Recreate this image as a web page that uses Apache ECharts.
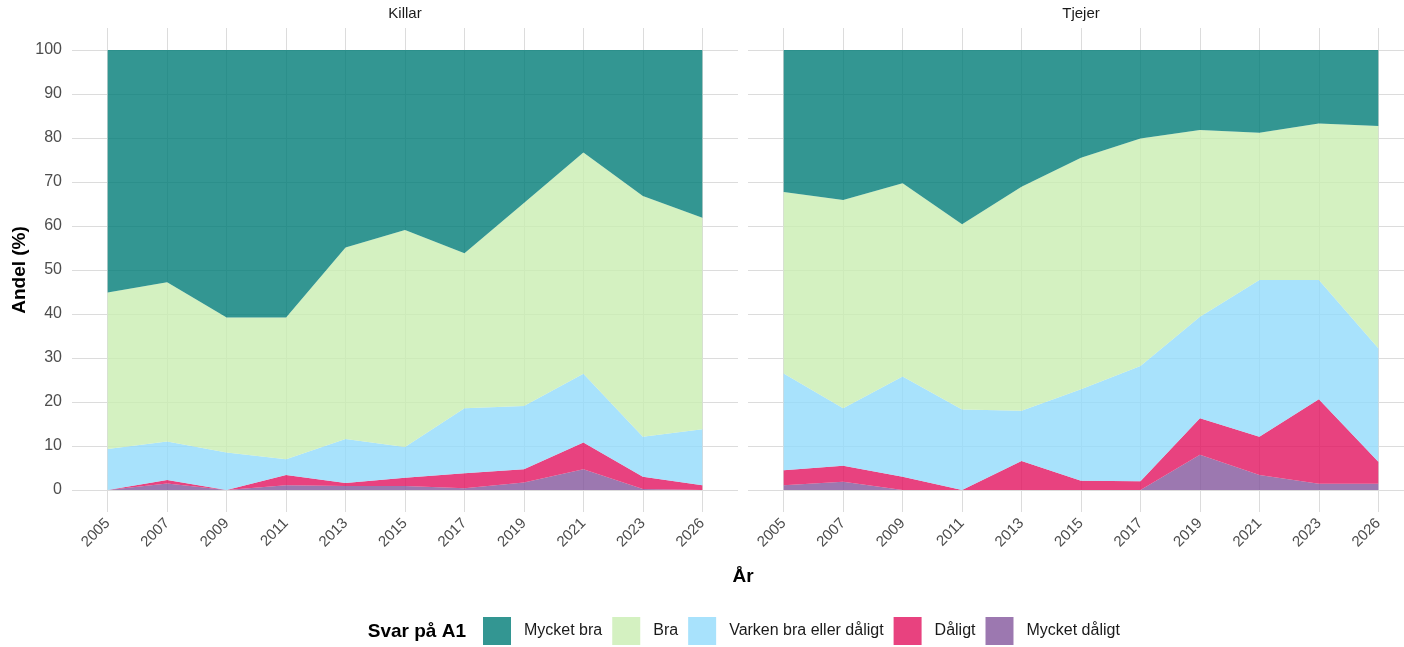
<!DOCTYPE html>
<html>
<head>
<meta charset="utf-8">
<script src="https://cdn.jsdelivr.net/npm/echarts@6/dist/echarts.min.js"></script>
<style>
  html, body { margin: 0; padding: 0; background: #fff; }
  #main { width: 1404px; height: 647px; }
</style>
</head>
<body>
<!-- container for the chart -->
<div id="main"></div>
<script>
// x categories
var years = ["2005", "2007", "2009", "2011", "2013", "2015", "2017", "2019", "2021", "2023", "2026"];
var yTicks = [0, 10, 20, 30, 40, 50, 60, 70, 80, 90, 100];

// Killar (andel %)
var mycketDaligtK = [0, 1.5, 0, 1.1, 0.9, 0.9, 0.4, 1.7, 4.7, 0.2, 0];
var daligtK = [0, 0.8, 0, 2.3, 0.7, 1.9, 3.4, 3.0, 6.1, 2.8, 1.1];
var varkenK = [9.3, 8.7, 8.5, 3.6, 10.0, 7.0, 14.8, 14.4, 15.6, 9.1, 12.7];
var braK = [35.6, 36.2, 30.7, 32.2, 43.5, 49.3, 35.2, 46.1, 50.3, 54.7, 48.1];
var mycketBraK = [55.1, 52.8, 60.8, 60.8, 44.9, 40.9, 46.2, 34.8, 23.3, 33.2, 38.1];

// Tjejer (andel %)
var mycketDaligtT = [1.1, 1.9, 0, 0, 0, 0, 0, 8.0, 3.4, 1.4, 1.4];
var daligtT = [3.4, 3.6, 3.0, 0, 6.6, 2.1, 2.0, 8.3, 8.7, 19.2, 5.0];
var varkenT = [22.0, 13.1, 22.8, 18.3, 11.4, 20.8, 26.2, 23.1, 35.6, 27.1, 25.8];
var braT = [41.2, 47.3, 43.9, 42.1, 50.9, 52.6, 51.7, 42.4, 33.5, 35.6, 50.5];
var mycketBraT = [32.3, 34.1, 30.3, 39.6, 31.1, 24.5, 20.1, 18.2, 18.8, 16.7, 17.3];

var names = ["Mycket bra", "Bra", "Varken bra eller dåligt", "Dåligt", "Mycket dåligt"];
// base colours (areas drawn with alpha 0.8)
var baseColors = {
  "Mycket bra": "#007c77",
  "Bra": "#c9edb1",
  "Varken bra eller dåligt": "#92dbfb",
  "Dåligt": "#e2135f",
  "Mycket dåligt": "#83569c"
};
// what the colours look like on white (for legend keys)
var keyColors = {
  "Mycket bra": "#339692",
  "Bra": "#d4f1c1",
  "Varken bra eller dåligt": "#a8e2fc",
  "Dåligt": "#e8427f",
  "Mycket dåligt": "#9c78b0"
};

// panel geometry (ggplot style: discrete axis expanded by 0.6 on each side)
var panelW = 666, panelTop = 28, panelH = 484;
var step = panelW / 11.2;
var panelLeft = [72, 748];

var gridColor = "#dcdcdc";
var labelColor = "#4d4d4d";
var font = "Liberation Sans, Arial, sans-serif";

function makeSeries(name, data, axisIdx, stack) {
  return {
    name: name,
    type: "line",
    stack: stack,
    xAxisIndex: axisIdx,
    yAxisIndex: axisIdx,
    data: data,
    symbol: "none",
    color: baseColors[name],
    lineStyle: { width: 0 },
    areaStyle: { color: baseColors[name], opacity: 0.8 },
    emphasis: { disabled: true },
    silent: true
  };
}

function yearAxis(gridIdx) {
  return {
    gridIndex: gridIdx, type: "category", data: years, boundaryGap: false,
    axisLine: { show: false }, axisTick: { show: false },
    splitLine: { show: true, lineStyle: { color: gridColor, width: 1 } },
    axisLabel: { rotate: 45, interval: 0, margin: 9, fontSize: 15, color: labelColor }
  };
}

var chart = echarts.init(document.getElementById("main"));

chart.setOption({
  animation: false,
  backgroundColor: "#fff",
  textStyle: { fontFamily: font },
  grid: [
    // panels (horizontal grid lines + y labels)
    { left: panelLeft[0], top: 50, width: panelW, height: 440 },
    { left: panelLeft[1], top: 50, width: panelW, height: 440 },
    // data areas (x from first to last year)
    { left: panelLeft[0] + step * 0.6, top: panelTop, width: step * 10, height: panelH },
    { left: panelLeft[1] + step * 0.6, top: panelTop, width: step * 10, height: panelH }
  ],
  xAxis: [
    { gridIndex: 0, type: "value", min: 0, max: 1, show: false },
    { gridIndex: 1, type: "value", min: 0, max: 1, show: false },
    yearAxis(2),
    yearAxis(3)
  ],
  yAxis: [
    {
      gridIndex: 0, type: "value", min: yTicks[0], max: yTicks[yTicks.length - 1], interval: 10,
      axisLine: { show: false }, axisTick: { show: false },
      splitLine: { show: true, lineStyle: { color: gridColor, width: 1 } },
      axisLabel: { margin: 10, fontSize: 16, color: labelColor }
    },
    {
      gridIndex: 1, type: "value", min: yTicks[0], max: yTicks[yTicks.length - 1], interval: 10,
      axisLine: { show: false }, axisTick: { show: false },
      splitLine: { show: true, lineStyle: { color: gridColor, width: 1 } },
      axisLabel: { show: false }
    },
    { gridIndex: 2, type: "value", min: -5, max: 105, show: false, splitLine: { show: false } },
    { gridIndex: 3, type: "value", min: -5, max: 105, show: false, splitLine: { show: false } }
  ],
  legend: {
    left: 478,
    top: 612,
    itemWidth: 28,
    itemHeight: 28,
    itemGap: 10,
    icon: "rect",
    selectedMode: false,
    textStyle: { fontSize: 16, color: "#1a1a1a", padding: [0, 0, 0, 8] },
    data: names.map(function (n) {
      return { name: n, itemStyle: { color: keyColors[n], opacity: 1 } };
    })
  },
  graphic: [
    // facet strips
    { type: "text", x: 405, y: 14, style: { text: "Killar", font: "15px " + font, fill: "#1a1a1a", textAlign: "center", textVerticalAlign: "middle" } },
    { type: "text", x: 1081, y: 14, style: { text: "Tjejer", font: "15px " + font, fill: "#1a1a1a", textAlign: "center", textVerticalAlign: "middle" } },
    // axis titles
    { type: "text", x: 743, y: 577, style: { text: "År", font: "bold 19px " + font, fill: "#000", textAlign: "center", textVerticalAlign: "middle" } },
    { type: "text", x: 20, y: 270, rotation: Math.PI / 2, style: { text: "Andel (%)", font: "bold 19px " + font, fill: "#000", textAlign: "center", textVerticalAlign: "middle" } },
    // legend title
    { type: "text", x: 466, y: 632, style: { text: "Svar på A1", font: "bold 19px " + font, fill: "#000", textAlign: "right", textVerticalAlign: "middle" } }
  ],
  series: [
    // Killar, stacked from the bottom
    makeSeries("Mycket dåligt", mycketDaligtK, 2, "k"),
    makeSeries("Dåligt", daligtK, 2, "k"),
    makeSeries("Varken bra eller dåligt", varkenK, 2, "k"),
    makeSeries("Bra", braK, 2, "k"),
    makeSeries("Mycket bra", mycketBraK, 2, "k"),
    // Tjejer
    makeSeries("Mycket dåligt", mycketDaligtT, 3, "t"),
    makeSeries("Dåligt", daligtT, 3, "t"),
    makeSeries("Varken bra eller dåligt", varkenT, 3, "t"),
    makeSeries("Bra", braT, 3, "t"),
    makeSeries("Mycket bra", mycketBraT, 3, "t")
  ]
});
</script>
</body>
</html>
